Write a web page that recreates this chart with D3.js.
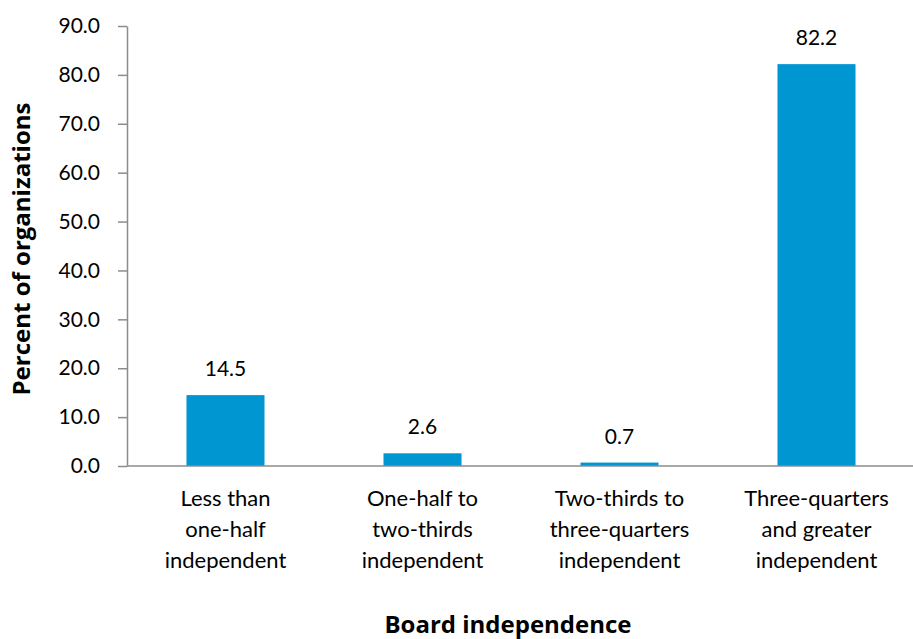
<!DOCTYPE html>
<html>
<head>
<meta charset="utf-8">
<script src="https://cdn.jsdelivr.net/npm/d3@7"></script>
<style>
  html, body { margin: 0; padding: 0; background: #fff; }
  svg text { font-family: "Lato", "Open Sans", sans-serif; fill: #000; }
  svg text.axis-title { font-family: "Open Sans", "Lato", sans-serif; font-weight: bold; }
</style>
</head>
<body>
<svg id="chart" width="913" height="639"></svg>
<script>
// Share of organizations by level of board independence
const categories = [
  ["Less than", "one-half", "independent"],
  ["One-half to", "two-thirds", "independent"],
  ["Two-thirds to", "three-quarters", "independent"],
  ["Three-quarters", "and greater", "independent"]
];
const values = [14.5, 2.6, 0.7, 82.2];
const yTicks = [0, 10, 20, 30, 40, 50, 60, 70, 80, 90];
const xTitle = "Board independence";
const yTitle = "Percent of organizations";

const svg = d3.select("#chart");
const margin = { left: 127, right: -2, top: 26, bottom: 173 };
const W = 913, H = 639;
const plotW = W - margin.left - margin.right;
const plotH = H - margin.top - margin.bottom;

const x = d3.scaleBand()
  .domain(d3.range(categories.length))
  .range([margin.left, margin.left + plotW])
  .paddingInner(0.604)
  .paddingOuter(0.302);

const y = d3.scaleLinear()
  .domain([0, 90])
  .range([margin.top + plotH, margin.top]);

const axisColor = "#8c8c8c";
const labelSize = 22;

// bars
svg.append("g").selectAll("rect")
  .data(values)
  .join("rect")
  .attr("x", (d, i) => x(i))
  .attr("width", x.bandwidth())
  .attr("y", d => y(d))
  .attr("height", d => y(0) - y(d))
  .attr("fill", "#0096d1");

// value labels
svg.append("g").selectAll("text")
  .data(values)
  .join("text")
  .attr("x", (d, i) => x(i) + x.bandwidth() / 2)
  .attr("y", d => y(d) - 19)
  .attr("text-anchor", "middle")
  .attr("font-size", 21)
  .text(d => d.toFixed(1));

// y axis
const yAxis = svg.append("g")
  .attr("transform", `translate(${margin.left},0)`)
  .call(d3.axisLeft(y).tickValues(yTicks).tickFormat(d => d.toFixed(1)).tickSize(9).tickSizeOuter(0));
yAxis.select(".domain").attr("stroke", axisColor).attr("stroke-width", 1.5);
yAxis.selectAll(".tick line").attr("stroke", axisColor).attr("stroke-width", 1.5);
yAxis.selectAll(".tick text")
  .attr("x", -27)
  .attr("font-size", 21)
  .attr("fill", "#000");

// x axis baseline
svg.append("line")
  .attr("x1", margin.left)
  .attr("x2", W)
  .attr("y1", y(0))
  .attr("y2", y(0))
  .attr("stroke", axisColor)
  .attr("stroke-width", 1.5);

// category labels
const catG = svg.append("g").selectAll("text")
  .data(categories)
  .join("text")
  .attr("text-anchor", "middle")
  .attr("font-size", labelSize)
  .attr("x", (d, i) => x(i) + x.bandwidth() / 2)
  .attr("y", 506);
catG.selectAll("tspan")
  .data(d => d)
  .join("tspan")
  .attr("x", function () { return d3.select(this.parentNode).attr("x"); })
  .attr("dy", (d, i) => i === 0 ? 0 : 31)
  .text(d => d);

// axis titles
svg.append("text")
  .attr("class", "axis-title")
  .attr("x", 508)
  .attr("y", 633)
  .attr("text-anchor", "middle")
  .attr("font-size", 24)
  .text(xTitle);

svg.append("text")
  .attr("class", "axis-title")
  .attr("transform", `translate(30,${249}) rotate(-90)`)
  .attr("text-anchor", "middle")
  .attr("font-size", 24)
  .text(yTitle);
</script>
</body>
</html>
